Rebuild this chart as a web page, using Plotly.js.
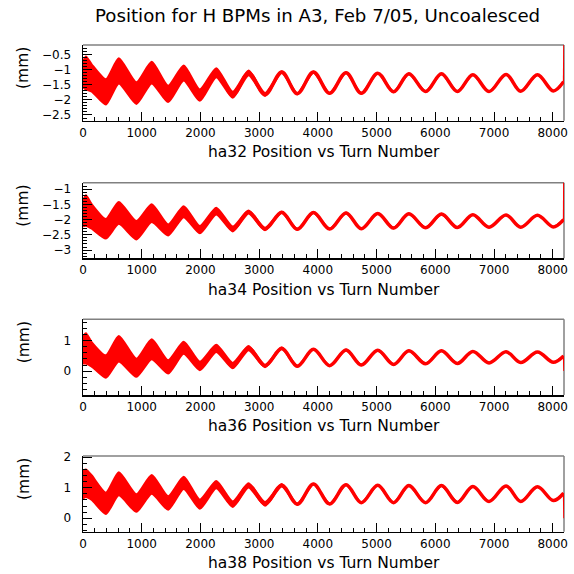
<!DOCTYPE html>
<html>
<head>
<meta charset="utf-8">
<script src="https://cdn.plot.ly/plotly-3.0.1.min.js"></script>
<style>html,body{margin:0;padding:0;background:#fff;}#chart{width:574px;height:574px;}</style>
</head>
<body>
<div id="chart"></div>
<script>
// Turn numbers of read-off points (peaks / troughs of the slow oscillation)
const turns = [0, 50, 150, 390, 610, 910, 1170, 1450, 1715, 1990, 2270, 2550, 2820, 3100, 3385, 3650, 3925, 4200, 4480, 4740, 5020, 5290, 5550, 5835, 6105, 6375, 6640, 6915, 7205, 7455, 7740, 8010, 8185];

// Centre of the position band (mm) and half-width of the fast oscillation (mm)
const ha32Center = [-1.15, -1.1, -1.27, -1.73, -1.03, -1.77, -1.09, -1.8, -1.1, -1.84, -1.09, -1.83, -1.1, -1.82, -1.07, -1.79, -1.07, -1.78, -1.09, -1.78, -1.11, -1.73, -1.13, -1.72, -1.13, -1.72, -1.16, -1.72, -1.15, -1.71, -1.16, -1.70, -1.39];
const ha32Amp    = [0.42, 0.55, 0.45, 0.42, 0.42, 0.36, 0.36, 0.27, 0.25, 0.19, 0.15, 0.1, 0.08, 0.05, 0.03, 0.02, 0.02, 0.01, 0.01, 0.01, 0.01, 0.01, 0.01, 0.01, 0.01, 0.01, 0.0, 0.0, 0.0, 0.0, 0.0, 0.0, 0.0];

const ha34Center = [-1.8, -1.7, -1.9, -2.3, -1.78, -2.35, -1.79, -2.34, -1.74, -2.33, -1.72, -2.31, -1.75, -2.31, -1.76, -2.32, -1.77, -2.31, -1.78, -2.30, -1.80, -2.28, -1.81, -2.27, -1.82, -2.26, -1.84, -2.25, -1.85, -2.25, -1.86, -2.24, -2.0];
const ha34Amp    = [0.42, 0.5, 0.4, 0.32, 0.36, 0.3, 0.29, 0.18, 0.18, 0.12, 0.11, 0.08, 0.05, 0.04, 0.02, 0.02, 0.01, 0.01, 0.01, 0.01, 0.01, 0.01, 0.01, 0.01, 0.01, 0.01, 0.0, 0.0, 0.0, 0.0, 0.0, 0.0, 0.0];

const ha36Center = [0.7, 0.75, 0.55, 0.15, 0.74, 0.11, 0.72, 0.14, 0.77, 0.17, 0.75, 0.18, 0.76, 0.17, 0.75, 0.16, 0.72, 0.18, 0.70, 0.2, 0.69, 0.22, 0.67, 0.24, 0.67, 0.25, 0.65, 0.27, 0.64, 0.28, 0.63, 0.29, 0.5];
const ha36Amp    = [0.45, 0.5, 0.4, 0.37, 0.42, 0.3, 0.33, 0.22, 0.2, 0.14, 0.12, 0.09, 0.07, 0.04, 0.03, 0.02, 0.01, 0.01, 0.01, 0.01, 0.01, 0.01, 0.01, 0.01, 0.01, 0.01, 0.0, 0.0, 0.0, 0.0, 0.0, 0.0, 0.0];

const ha38Center = [1.1, 1.15, 1.0, 0.49, 1.13, 0.5, 1.11, 0.5, 1.16, 0.46, 1.1, 0.46, 1.08, 0.47, 1.08, 0.46, 1.12, 0.47, 1.10, 0.51, 1.08, 0.51, 1.07, 0.51, 1.07, 0.52, 1.04, 0.55, 1.06, 0.55, 1.03, 0.58, 0.82];
const ha38Amp    = [0.45, 0.45, 0.4, 0.35, 0.38, 0.29, 0.31, 0.22, 0.2, 0.15, 0.12, 0.09, 0.07, 0.06, 0.04, 0.02, 0.01, 0.01, 0.01, 0.01, 0.01, 0.01, 0.01, 0.01, 0.01, 0.01, 0.0, 0.0, 0.0, 0.0, 0.0, 0.0, 0.0];

// Last recorded sample (drawn as the jump at the right edge)
const lastTurn = [8185, 8192];
const lastValue = 0;

const bpmNames = ["ha32", "ha34", "ha36", "ha38"];
const centers = [ha32Center, ha34Center, ha36Center, ha38Center];
const amps = [ha32Amp, ha34Amp, ha36Amp, ha38Amp];
const yRanges = [[-2.69, -0.17], [-3.27, -0.79], [-0.79, 1.71], [-0.44, 2.04]];
const yDticks = [0.5, 0.5, 1, 1];
const yMinor = [0.1, 0.1, 0.2, 0.2];
const titleText = "Position for H BPMs in A3, Feb 7/05, Uncoalesced";

// plot areas in pixels (top, bottom)
const H = 574;
const boxes = [[45, 120.7], [182.7, 258.3], [319.3, 395], [456, 531.7]];
const FONT = "DejaVu Sans, Liberation Sans, sans-serif";
const RED = "#ff0000";

const data = [];
const layout = {
  width: 574, height: 574,
  margin: {l: 83, r: 10, t: 0, b: 0, pad: 0},
  paper_bgcolor: "#ffffff", plot_bgcolor: "#ffffff",
  showlegend: false,
  font: {family: FONT, color: "#000"},
  annotations: [], shapes: []
};

layout.annotations.push({
  xref: "paper", yref: "paper", x: (317 - 83) / 481, y: 1 - 16 / H,
  xanchor: "center", yanchor: "middle", showarrow: false,
  text: titleText, font: {family: FONT, size: 18.2, color: "#000"}
});

for (let i = 0; i < 4; i++) {
  const sfx = i === 0 ? "" : String(i + 1);
  const xa = "x" + sfx, ya = "y" + sfx;
  const c = centers[i], a = amps[i];
  const upper = c.map((v, k) => v + a[k]);
  const lower = c.map((v, k) => v - a[k]);
  const polyX = turns.concat(turns.slice().reverse());
  const polyY = upper.concat(lower.slice().reverse());
  data.push({
    type: "scatter", mode: "lines", x: polyX, y: polyY, xaxis: xa, yaxis: ya,
    fill: "toself", fillcolor: RED, line: {color: RED, width: 2, shape: "spline", smoothing: 0.6},
    hoverinfo: "skip"
  });
  data.push({
    type: "scatter", mode: "lines", x: turns, y: c, xaxis: xa, yaxis: ya,
    line: {color: RED, width: 3.5, shape: "spline", smoothing: 1}, hoverinfo: "skip"
  });
  data.push({
    type: "scatter", mode: "lines", x: lastTurn, y: [c[c.length - 1], lastValue], xaxis: xa, yaxis: ya,
    line: {color: RED, width: 1.5}, hoverinfo: "skip"
  });

  const top = boxes[i][0], bot = boxes[i][1];
  const dom = [1 - bot / H, 1 - top / H];
  layout["xaxis" + sfx] = {
    domain: [0, 1], anchor: ya, range: [0, 8192], tick0: 0, dtick: 1000,
    ticks: "inside", ticklen: 9, tickwidth: 1, tickcolor: "#000",
    showline: true, linecolor: "#000", linewidth: 1.5, mirror: false,
    showgrid: false, zeroline: false, fixedrange: true,
    tickfont: {family: FONT, size: 12, color: "#000"},
    minor: {dtick: 200, tick0: 0, ticks: "inside", ticklen: 4, tickcolor: "#000", showgrid: false}
  };
  layout["yaxis" + sfx] = {
    domain: dom, anchor: xa, range: yRanges[i], dtick: yDticks[i], tick0: 0,
    ticks: "inside", ticklen: 9, tickwidth: 1, tickcolor: "#000",
    showline: true, linecolor: "#000", linewidth: 1.5, mirror: false,
    showgrid: false, zeroline: false, fixedrange: true, ticklabelstandoff: 8,
    tickfont: {family: FONT, size: 12, color: "#000"},
    minor: {dtick: yMinor[i], tick0: 0, ticks: "inside", ticklen: 4, tickcolor: "#000", showgrid: false}
  };
  // grey frame top and right
  layout.shapes.push({type: "line", xref: xa + " domain", yref: ya + " domain", x0: 0, x1: 1, y0: 1, y1: 1, line: {color: "#808080", width: 1.5}, layer: "below"});
  layout.shapes.push({type: "line", xref: xa + " domain", yref: ya + " domain", x0: 1, x1: 1, y0: 0, y1: 1, line: {color: "#808080", width: 1.5}, layer: "below"});
  // x-axis title
  layout.annotations.push({
    xref: "paper", yref: "paper", x: 0.5, y: 1 - (bot + 31.5) / H,
    xanchor: "center", yanchor: "middle", showarrow: false,
    text: bpmNames[i] + " Position vs Turn Number", font: {family: FONT, size: 15.5, color: "#000"}
  });
  // y-axis title, aligned near top of axis
  layout.annotations.push({
    xref: "paper", yref: "paper", x: (23.5 - 83) / 481, y: 1 - (top + 23.5) / H,
    xanchor: "center", yanchor: "middle", showarrow: false, textangle: -90,
    text: "(mm)", font: {family: FONT, size: 15.5, color: "#000"}
  });
}

Plotly.newPlot("chart", data, layout, {displayModeBar: false, staticPlot: true});
</script>
</body>
</html>
